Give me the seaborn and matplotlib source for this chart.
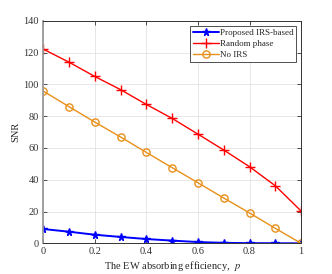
import numpy as np
import matplotlib
matplotlib.use("Agg")
import matplotlib.pyplot as plt
import seaborn as sns
import pandas as pd

# data
p = [0, 0.1, 0.2, 0.3, 0.4, 0.5, 0.6, 0.7, 0.8, 0.9, 1.0]
snr_proposed = [9.0, 7.3, 5.4, 4.0, 2.7, 1.7, 0.8, 0.3, 0.1, 0.05, 0.0]
snr_random = [122.2, 114.0, 105.0, 96.7, 87.4, 78.6, 68.7, 58.7, 48.2, 36.2, 20.3]
snr_noirs = [95.8, 86.0, 76.3, 66.9, 57.2, 47.6, 38.1, 28.5, 19.1, 9.4, 0.0]
labels = ["Proposed IRS-based", "Random phase", "No IRS"]

sns.set_style("whitegrid")
plt.rcParams["font.family"] = ["Liberation Serif", "DejaVu Serif"]
plt.rcParams["mathtext.fontset"] = "stix"

df = pd.DataFrame({"p": p * 3,
                   "snr": snr_proposed + snr_random + snr_noirs,
                   "scheme": [labels[0]] * 11 + [labels[1]] * 11 + [labels[2]] * 11})

fig = plt.figure(figsize=(3.32, 2.74), dpi=100)
ax = fig.add_axes([0.13, 0.112, 0.777, 0.812])

colors = {labels[0]: "#0000ff", labels[1]: "#ff0000", labels[2]: "#e8901a"}
markers = {labels[0]: "*", labels[1]: "+", labels[2]: "o"}
sizes = {labels[0]: 5.5, labels[1]: 7, labels[2]: 5.2}
widths = {labels[0]: 1.4, labels[1]: 1.0, labels[2]: 1.0}
for lab in labels:
    sub = df[df["scheme"] == lab]
    sns.lineplot(data=sub, x="p", y="snr", ax=ax, color=colors[lab], lw=widths[lab],
                 marker=markers[lab], markersize=sizes[lab],
                 markerfacecolor="none" if lab == labels[2] else colors[lab],
                 markeredgecolor=colors[lab], markeredgewidth=1.0, label=lab)

ax.set_xlim(0, 1)
ax.set_ylim(0, 140)
ax.set_xticks(np.arange(0, 1.01, 0.2))
ax.set_xticklabels(["0", "0.2", "0.4", "0.6", "0.8", "1"])
ax.set_yticks(np.arange(0, 141, 20))
ax.grid(True, color="#e3e3e3", lw=0.6)
for s in ax.spines.values():
    s.set_edgecolor("#333333")
    s.set_linewidth(0.7)
ax.spines["left"].set_edgecolor("#999999")
ax.spines["left"].set_linewidth(1.3)
ax.tick_params(direction="in", length=3, width=0.6, labelsize=7.5, colors="#333333",
               top=True, right=True, bottom=True, left=True, pad=3)
ax.set_xlabel("The EW absorbing efficiency,  $p$", fontsize=7.5, labelpad=2)
ax.set_ylabel("SNR", fontsize=7.5, labelpad=2)

leg = ax.legend(loc="upper right", fontsize=6.5, frameon=True, fancybox=False,
                framealpha=1, edgecolor="#333333", borderpad=0.3,
                labelspacing=0.3, handlelength=2.9, handletextpad=0.1,
                borderaxespad=0.55)
leg.get_frame().set_linewidth(0.6)

fig.savefig("out.png", dpi=100)
